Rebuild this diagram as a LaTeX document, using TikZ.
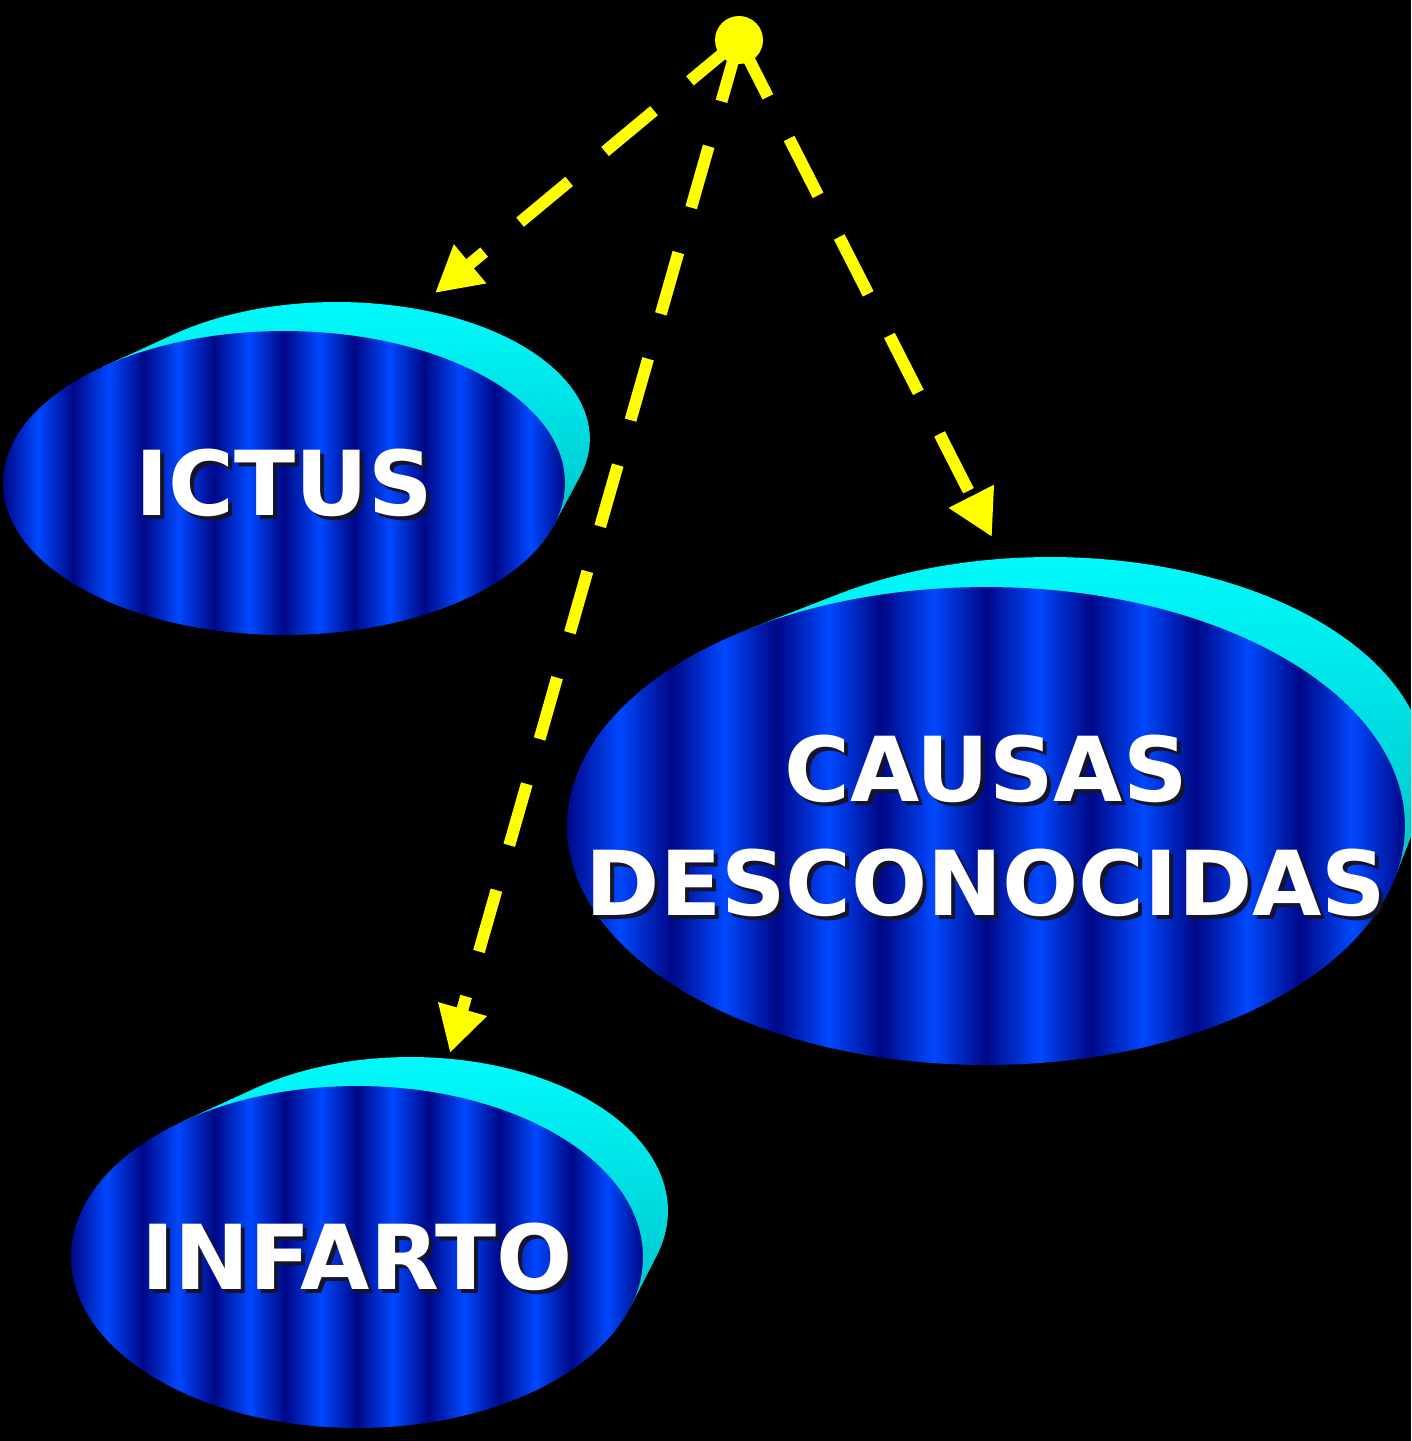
\documentclass[tikz,border=0pt]{standalone}
\usepackage{fontspec}
\setmainfont{DejaVu Sans}
\usepackage{tikz}
\usetikzlibrary{arrows.meta,calc,shapes.geometric}
\definecolor{StripeDark}{RGB}{0,8,135}
\definecolor{StripeBright}{RGB}{0,72,255}
\definecolor{ShadowCyan}{RGB}{0,255,255}
\definecolor{CyanDeep}{RGB}{0,196,204}
\definecolor{TextShade}{RGB}{20,20,45}
\definecolor{ArrowYellow}{RGB}{255,255,0}

% vertical blue stripes (8 periods inside the 25bp--75bp window)
\pgfdeclarehorizontalshading{bluestripes}{100bp}{%
  color(0bp)=(StripeDark); color(25bp)=(StripeDark);
  color(28.125bp)=(StripeBright); color(31.25bp)=(StripeDark);
  color(34.375bp)=(StripeBright); color(37.5bp)=(StripeDark);
  color(40.625bp)=(StripeBright); color(43.75bp)=(StripeDark);
  color(46.875bp)=(StripeBright); color(50bp)=(StripeDark);
  color(53.125bp)=(StripeBright); color(56.25bp)=(StripeDark);
  color(59.375bp)=(StripeBright); color(62.5bp)=(StripeDark);
  color(65.625bp)=(StripeBright); color(68.75bp)=(StripeDark);
  color(71.875bp)=(StripeBright); color(75bp)=(StripeDark);
  color(100bp)=(StripeDark)}

% white label with a dark drop shadow; zero width so the ellipse keeps its size
\newcommand\sombra[1]{\makebox[0pt]{\rlap{\smash{\raisebox{-2.3pt}{\hspace{2.3pt}\textcolor{TextShade}{#1}}}}#1}}

\begin{document}
\begin{tikzpicture}[x=0.02cm, y=-0.02cm,
  causa/.style={ellipse, shade, shading=bluestripes, inner sep=0pt,
    text=white, align=center, font=\fontsize{51}{65}\selectfont\bfseries},
  fondo/.style={top color=ShadowCyan, middle color=ShadowCyan, bottom color=CyanDeep},
  flecha/.style={ArrowYellow, line width=6.8pt, dash pattern=on 36.3pt off 26.6pt,
    -{Triangle[length=26pt, width=27pt]}}]
  % Black slide background
  \fill[black] (0,0) rectangle (1411,1441);
  \useasboundingbox (0,0) rectangle (1411,1441);
  \clip (0,0) rectangle (1411,1441);

  % Front and back centres of the three discs
  \coordinate (ictus c) at (284,483);
  \coordinate (ictus b) at (337,438.8);
  \coordinate (causas c) at (986,826);
  \coordinate (causas b) at (1050,772.1);
  \coordinate (infarto c) at (357,1257);
  \coordinate (infarto b) at (410.6,1210.9);

  % Origin dot and arrow end points
  \node[circle, fill=ArrowYellow, minimum size=0.96cm, inner sep=0pt] (origen) at (739,40) {};
  \coordinate (fin ictus) at (435,293);
  \coordinate (fin infarto) at (450,1053);
  \coordinate (fin causas) at (992,537);

  % Dashed arrows
  \draw[flecha] (origen.center) -- (fin ictus);
  \draw[flecha] (origen.center) -- (fin infarto);
  \draw[flecha] (origen.center) -- (fin causas);

  % Cyan back faces (hull of back ellipse and front ellipse)
  \shade[fondo] ($(ictus c)+(130.2:5.62cm and 3.04cm)$)
    -- ($(ictus b)+(130.2:5.058cm and 2.736cm)$)
    arc[start angle=130.2, end angle=-16.2, x radius=5.058cm, y radius=2.736cm]
    -- ($(ictus c)+(-16.2:5.62cm and 3.04cm)$) -- cycle;
  \shade[fondo] ($(causas c)+(124.45:8.38cm and 4.78cm)$)
    -- ($(causas b)+(124.45:7.542cm and 4.302cm)$)
    arc[start angle=124.45, end angle=-12.55, x radius=7.542cm, y radius=4.302cm]
    -- ($(causas c)+(-12.55:8.38cm and 4.78cm)$) -- cycle;
  \shade[fondo] ($(infarto c)+(127.5:5.72cm and 3.42cm)$)
    -- ($(infarto b)+(127.5:5.148cm and 3.078cm)$)
    arc[start angle=127.5, end angle=-17.1, x radius=5.148cm, y radius=3.078cm]
    -- ($(infarto c)+(-17.1:5.72cm and 3.42cm)$) -- cycle;

  % Striped front ellipses
  \node[causa, minimum width=11.24cm, minimum height=6.08cm] (ictus) at (ictus c) {\sombra{ICTUS}};
  \node[causa, minimum width=16.76cm, minimum height=9.56cm] (causas) at (causas c)
    {\sombra{CAUSAS}\\\sombra{DESCONOCIDAS}};
  \node[causa, minimum width=11.44cm, minimum height=6.84cm] (infarto) at (infarto c) {\sombra{INFARTO}};
\end{tikzpicture}
\end{document}
